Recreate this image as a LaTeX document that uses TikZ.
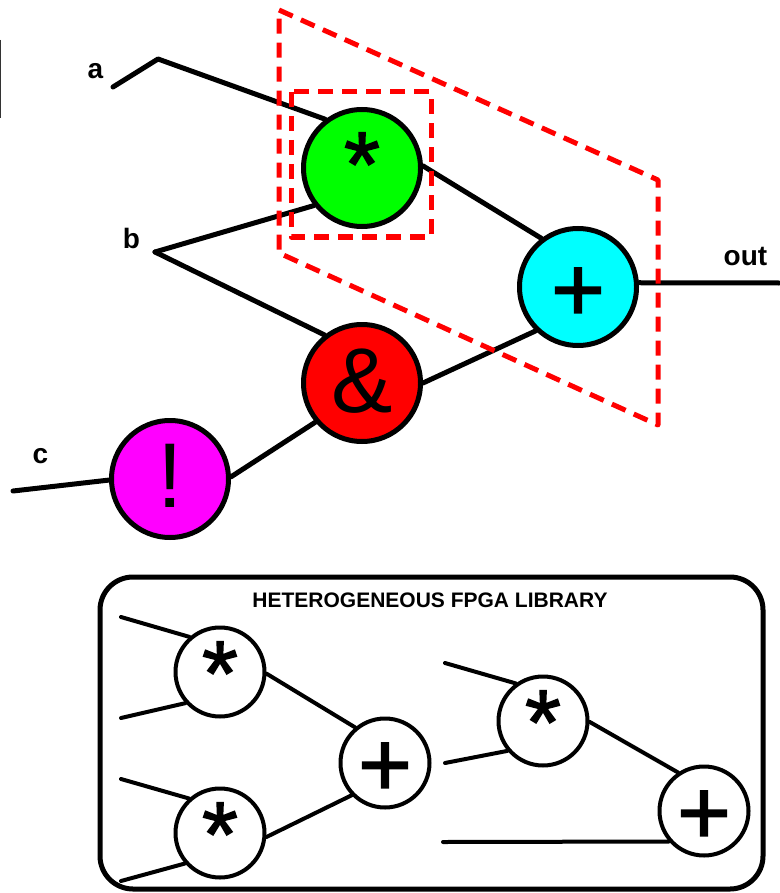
\documentclass[tikz,border=0pt]{standalone}
\usepackage{fontspec}
\setmainfont{Liberation Sans}
\newfontfamily\heavysym[FakeBold=1.6]{Liberation Sans}
\definecolor{opgreen}{RGB}{0,255,0}
\definecolor{opcyan}{RGB}{0,255,255}
\definecolor{opred}{RGB}{255,0,0}
\definecolor{opmagenta}{RGB}{255,0,255}
\definecolor{regionred}{RGB}{255,0,0}
% symbol placed with its baseline shifted by #1 and an empty box
\newcommand{\opsym}[2]{\raisebox{#1}[0pt][0pt]{#2}}
\tikzset{
  mainop/.style={circle, draw=black, line width=5pt, minimum size=117pt, inner sep=0pt,
    font=\fontsize{92}{100}\selectfont},
  libop/.style={circle, draw=black, line width=4pt, minimum size=89pt, inner sep=0pt,
    font=\fontsize{92}{100}\selectfont},
  heavy/.style={font=\heavysym\fontsize{92}{100}\selectfont},
  wire/.style={draw=black, line width=5pt, line cap=round, line join=round},
  libwire/.style={draw=black, line width=4pt, line cap=round, line join=round},
  region/.style={draw=regionred, line width=5pt, dash pattern=on 15pt off 9pt, line join=round},
  iolabel/.style={anchor=base, inner sep=0pt, font=\bfseries\fontsize{28}{30}\selectfont},
  libtitle/.style={anchor=base, inner sep=0pt, font=\bfseries\fontsize{21}{24}\selectfont},
}
\begin{document}
\begin{tikzpicture}[x=1pt, y=-1pt]
\useasboundingbox (0,0) rectangle (779,893);

% thin bar at the left edge
\draw[line width=1.4pt, black!80] (0.7,40) -- (0.7,118);

% operator nodes of the data-flow graph
\node[mainop, heavy, fill=opgreen] (mul) at (362,168) {\opsym{-28pt}{*}};
\node[mainop, heavy, fill=opcyan]  (add) at (578,287) {\opsym{-34pt}{+}};
\node[mainop, fill=opred]     (and) at (362,383) {\opsym{-29pt}{\&}};
\node[mainop, fill=opmagenta] (neg) at (170,479) {\opsym{-28pt}{!}};

% inputs and output
\node[iolabel] (la)   at (95.5,79)  {a};
\node[iolabel] (lb)   at (131.5,248) {b};
\node[iolabel] (lc)   at (40.5,463) {c};
\node[iolabel] (lout) at (745.5,265) {out};

\coordinate (ain)  at (113,87);
\coordinate (abend) at (158,59);
\coordinate (bin)  at (155,252);
\coordinate (cin)  at (13,491);
\coordinate (outend) at (779,283);

\draw[wire] (ain) -- (abend) -- (mul.127);
\draw[wire] (bin) -- (mul.218);
\draw[wire] (bin) -- (and.128);
\draw[wire] (cin) -- (neg.181);
\draw[wire] (neg.2) -- (and.220);
\draw[wire] (mul.2) -- (add.127);
\draw[wire] (and.0) -- (add.226);
\draw[wire] (add.4) -- (outend);

% candidate mapping regions
\draw[region] (291,92) rectangle (431,237);
\draw[region] (279,10) -- (658,180) -- (658,425) -- (279,253) -- cycle;

% library of heterogeneous FPGA blocks
\node[draw=black, line width=5pt, rounded corners=33pt, minimum width=663pt, minimum height=312pt,
  inner sep=0pt] (lib) at (431.5,733) {};
\node[libtitle] (libname) at (430,607) {HETEROGENEOUS FPGA LIBRARY};

\node[libop, heavy] (lmulA) at (220,672) {\opsym{-33pt}{*}};
\node[libop, heavy] (lmulB) at (220,833) {\opsym{-33pt}{*}};
\node[libop, heavy] (laddA) at (385,763) {\opsym{-33pt}{+}};
\node[libop, heavy] (lmulC) at (543,721) {\opsym{-33pt}{*}};
\node[libop, heavy] (laddB) at (704,811) {\opsym{-33pt}{+}};

\coordinate (lin1) at (121,617);
\coordinate (lin2) at (121,718);
\coordinate (lin3) at (121,779);
\coordinate (lin4) at (121,881);
\coordinate (lin5) at (445,663);
\coordinate (lin6) at (445,763);
\coordinate (lin7) at (443,842);

\draw[libwire] (lin1) -- (lmulA.131);
\draw[libwire] (lin2) -- (lmulA.222);
\draw[libwire] (lin3) -- (lmulB.132);
\draw[libwire] (lin4) -- (lmulB.221);
\draw[libwire] (lmulA.-2) -- (laddA.130);
\draw[libwire] (lmulB.-5) -- (laddA.224);
\draw[libwire] (lin5) -- (lmulC.126);
\draw[libwire] (lin6) -- (lmulC.220);
\draw[libwire] (lmulC.-1) -- (laddB.124);
\draw[libwire] (lin7) -- (laddB.221);
\end{tikzpicture}
\end{document}
